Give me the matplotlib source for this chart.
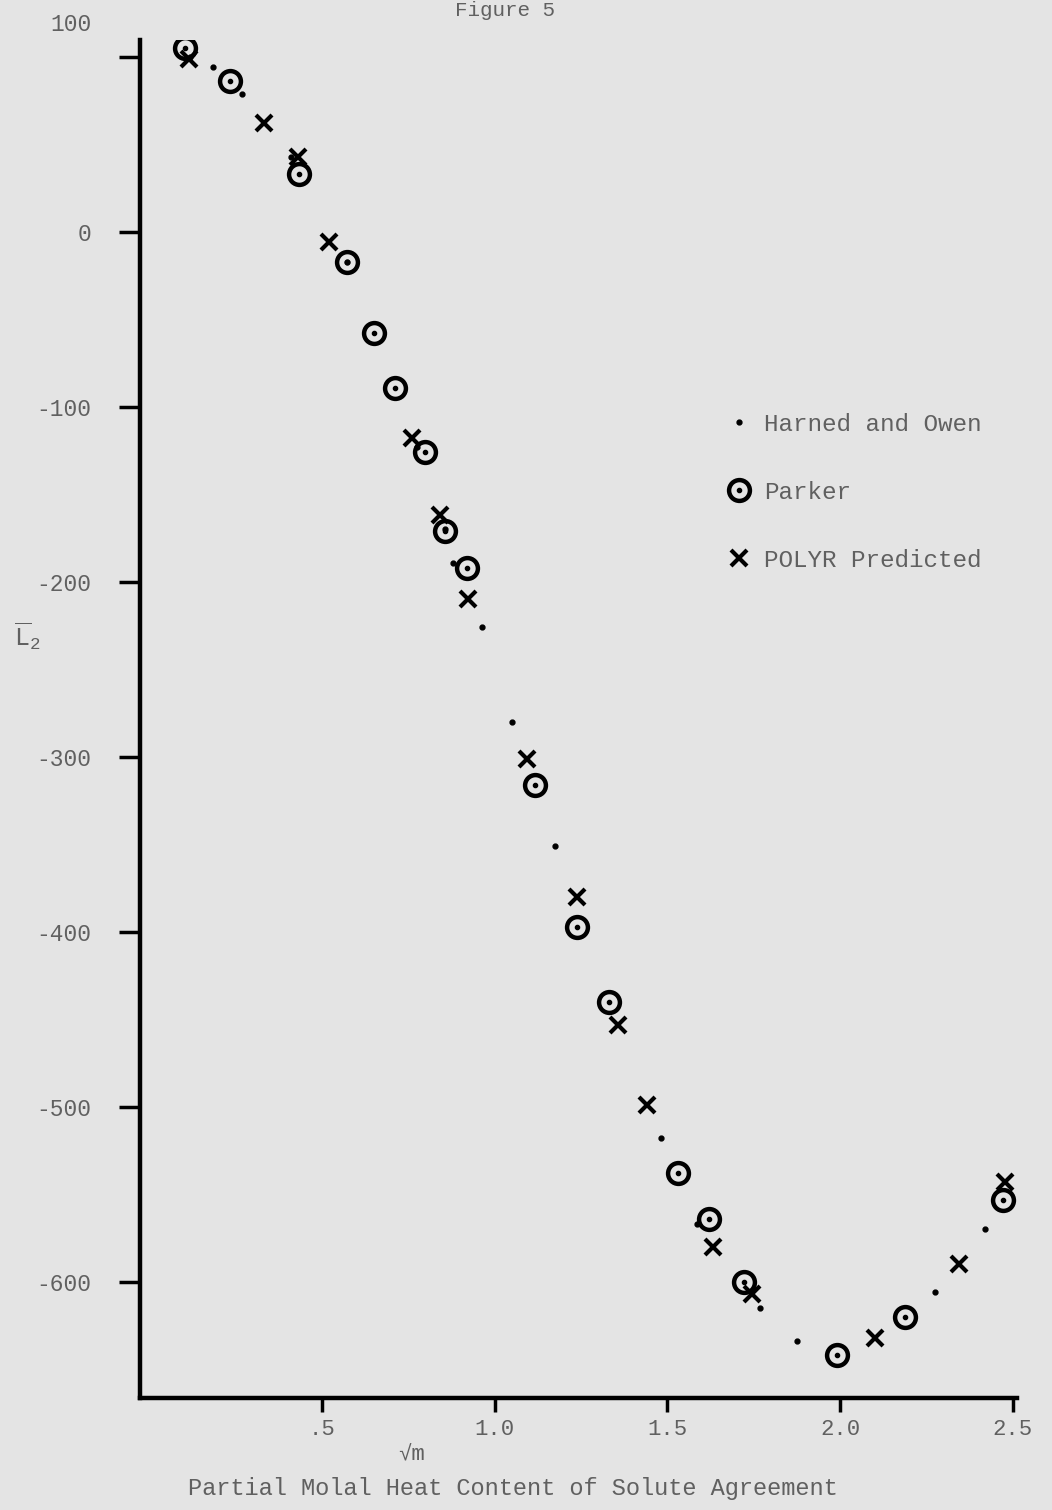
import matplotlib
matplotlib.use('Agg')
import matplotlib.pyplot as plt
import matplotlib.transforms as mtransforms
from matplotlib.legend_handler import HandlerTuple
from matplotlib.lines import Line2D

plt.rcParams['font.family'] = ['Liberation Mono', 'DejaVu Sans Mono']
plt.rcParams['mathtext.fontset'] = 'custom'
plt.rcParams['mathtext.rm'] = 'Liberation Mono'

# Harned and Owen (dots)
harned_x = [0.12, 0.185, 0.269, 0.41, 0.573, 0.776, 0.857, 0.88, 0.964, 1.05, 1.175,
            1.482, 1.586, 1.768, 1.875, 2.275, 2.42]
harned_y = [100, 94, 79, 43, -17, -123, -170, -189, -226, -280, -351,
            -518, -567, -615, -634, -606, -570]

# Parker (circled dot)
parker_x = [0.104, 0.234, 0.434, 0.573, 0.651, 0.712, 0.799, 0.857, 0.920, 1.117,
            1.239, 1.331, 1.531, 1.621, 1.722, 1.991, 2.188, 2.472]
parker_y = [105, 86, 33, -17, -58, -89, -126, -171, -192, -316,
            -397, -440, -538, -564, -600, -642, -620, -553]

# POLYR Predicted (x)
polyr_x = [0.116, 0.333, 0.431, 0.521, 0.761, 0.842, 0.923, 1.094, 1.239, 1.357,
           1.441, 1.632, 1.745, 2.101, 2.344, 2.478]
polyr_y = [99, 62, 43, -6, -118, -162, -210, -301, -380, -453,
           -499, -580, -607, -632, -590, -543]

yticks = [100, 0, -100, -200, -300, -400, -500, -600]
xticks = [0.5, 1.0, 1.5, 2.0, 2.5]
xticklabels = ['.5', '1.0', '1.5', '2.0', '2.5']

bg = '#e4e4e4'
txt = '#606060'

fig = plt.figure(figsize=(10.52, 15.10), dpi=100, facecolor=bg)
ax = fig.add_axes([140 / 1052, 1 - 1398 / 1510, 877 / 1052, 1358 / 1510])
ax.set_facecolor(bg)

ax.plot(harned_x, harned_y, 'o', color='black', ms=3.5, ls='none')
ax.plot(parker_x, parker_y, 'o', mfc='none', mec='black', mew=3.2, ms=15, ls='none')
ax.plot(parker_x, parker_y, 'o', color='black', ms=3, ls='none')
ax.plot(polyr_x, polyr_y, 'x', color='black', mew=3, ms=11, ls='none')

ax.set_xlim(-0.026, 2.512)
ax.set_ylim(-666.3, 109.7)

for s in ['top', 'right']:
    ax.spines[s].set_visible(False)
for s in ['left', 'bottom']:
    ax.spines[s].set_linewidth(3.2)
    ax.spines[s].set_color('black')

ax.set_yticks(yticks)
ax.set_yticklabels([str(v) for v in yticks])
ax.set_xticks(xticks)
ax.set_xticklabels(xticklabels)
ax.tick_params(axis='y', direction='out', length=15, width=2.5, pad=20,
               labelsize=16.5, labelcolor=txt)
ax.tick_params(axis='x', direction='out', length=10, width=2.5, pad=5,
               labelsize=16, labelcolor=txt)

# the "100" label sits above its tick mark
lab = ax.yaxis.get_major_ticks()[0].label1
lab.set_transform(lab.get_transform() +
                  mtransforms.ScaledTranslation(0, 0.35, fig.dpi_scale_trans))

# legend
h_dot = Line2D([], [], marker='o', color='black', ms=3.5, ls='none')
h_ring = Line2D([], [], marker='o', mfc='none', mec='black', mew=3.2, ms=15, ls='none')
h_cdot = Line2D([], [], marker='o', color='black', ms=3, ls='none')
h_x = Line2D([], [], marker='x', color='black', mew=3, ms=11, ls='none')
leg = ax.legend([h_dot, (h_ring, h_cdot), h_x],
                ['Harned and Owen', 'Parker', 'POLYR Predicted'],
                handler_map={tuple: HandlerTuple(ndivide=1)},
                loc='upper left', bbox_to_anchor=(724 / 1052, 1 - 413 / 1510),
                bbox_transform=fig.transFigure, frameon=False, fontsize=17.5,
                labelspacing=1.85, handlelength=1.2, handletextpad=0.45,
                borderpad=0, borderaxespad=0)
for t in leg.get_texts():
    t.set_color(txt)

fig.text(0.48, 0.9995, 'Figure 5', fontsize=15, color=txt, ha='center', va='top')
fig.text(27 / 1052, 1 - 636 / 1510, r'$\overline{\mathrm{L}}_{\mathrm{2}}$', fontsize=18,
         color=txt, ha='center', va='center')
fig.text(412 / 1052, 1 - 1455 / 1510, '\u221am', fontsize=16, color=txt,
         ha='center', va='center')
fig.text(513 / 1052, 1 - 1489 / 1510, 'Partial Molal Heat Content of Solute Agreement',
         fontsize=17, color=txt, ha='center', va='center')

fig.savefig('out.png', dpi=100, facecolor=bg)
